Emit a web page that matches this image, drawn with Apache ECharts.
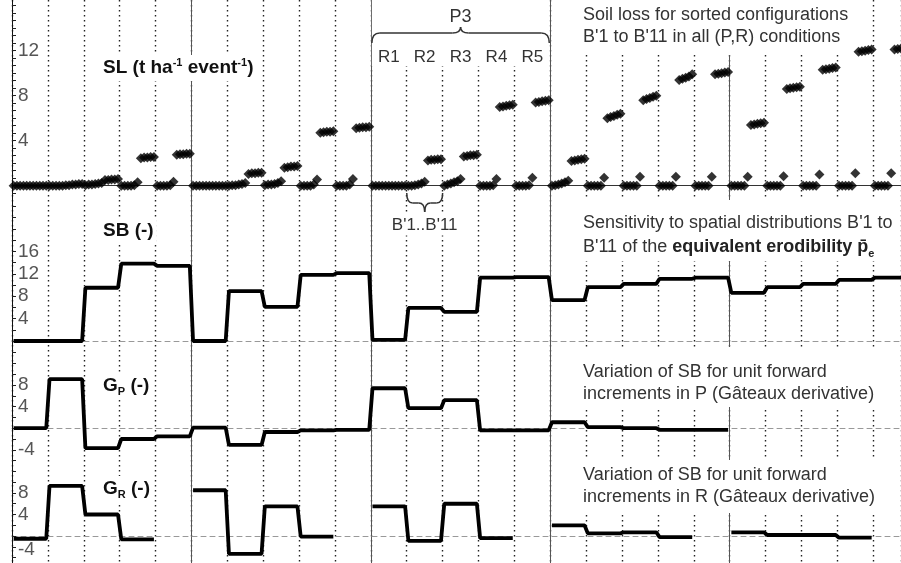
<!DOCTYPE html>
<html>
<head>
<meta charset="utf-8">
<script src="https://cdn.jsdelivr.net/npm/echarts@6/dist/echarts.min.js"></script>
<style>
html, body { margin: 0; padding: 0; background: #fff; }
#main { width: 901px; height: 563px; }
</style>
</head>
<body>
<div id="main"></div>
<script>
// 5 P levels x 5 R levels, 11 sorted configurations B'1..B'11 in each
var rLabels = ['R1', 'R2', 'R3', 'R4', 'R5'];
var nConf = 11;

// soil loss SL (t/ha/event), one row of 11 configurations per R level
var slP1 = [
  [0, 0, 0, 0, 0, 0, 0, 0, 0, 0, 0],
  [0, 0, 0, 0, 0, 0.05, 0.05, 0.1, 0.1, 0.15, 0.15],
  [0.05, 0.1, 0.1, 0.15, 0.2, 0.25, 0.5, 0.5, 0.55, 0.55, 0.6],
  [0, 0, 0, 0, 0.05, 0.3, 2.45, 2.5, 2.5, 2.55, 2.55],
  [0, 0, 0, 0, 0.05, 0.35, 2.75, 2.8, 2.8, 2.85, 2.85]
];
var slP2 = [
  [0, 0, 0, 0, 0, 0, 0, 0, 0, 0, 0],
  [0, 0.05, 0.05, 0.1, 0.15, 0.25, 1.05, 1.1, 1.1, 1.15, 1.15],
  [0.05, 0.1, 0.1, 0.15, 0.25, 0.4, 1.6, 1.65, 1.7, 1.7, 1.75],
  [0, 0, 0, 0, 0.1, 0.55, 4.7, 4.75, 4.8, 4.8, 4.85],
  [0, 0, 0, 0, 0.1, 0.6, 5.1, 5.15, 5.2, 5.2, 5.25]
];
var slP3 = [
  [0, 0, 0, 0, 0, 0, 0, 0, 0, 0, 0],
  [0, 0, 0.05, 0.1, 0.2, 0.35, 2.25, 2.3, 2.3, 2.35, 2.35],
  [0, 0.1, 0.2, 0.3, 0.4, 0.6, 2.6, 2.65, 2.7, 2.7, 2.75],
  [0, 0, 0, 0, 0.05, 0.6, 7.0, 7.05, 7.1, 7.15, 7.2],
  [0, 0, 0, 0, 0.05, 0.7, 7.4, 7.45, 7.5, 7.55, 7.6]
];
var slP4 = [
  [0, 0.05, 0.1, 0.2, 0.3, 0.45, 2.2, 2.25, 2.3, 2.35, 2.4],
  [0, 0, 0, 0, 0, 0.7, 6.0, 6.1, 6.2, 6.3, 6.4],
  [0, 0, 0, 0, 0, 0.8, 7.6, 7.7, 7.8, 7.9, 8.0],
  [0, 0, 0, 0, 0, 0.8, 9.4, 9.5, 9.6, 9.7, 9.9],
  [0, 0, 0, 0, 0, 0.8, 9.9, 9.95, 10.0, 10.05, 10.1]
];
var slP5 = [
  [0, 0, 0, 0, 0, 0.8, 5.4, 5.45, 5.5, 5.55, 5.6],
  [0, 0, 0, 0, 0, 0.85, 8.6, 8.65, 8.7, 8.75, 8.8],
  [0, 0, 0, 0, 0, 1.0, 10.3, 10.35, 10.4, 10.45, 10.5],
  [0, 0, 0, 0, 0, 1.1, 11.9, 11.95, 12.0, 12.05, 12.1],
  [0, 0, 0, 0, 0, 1.1, 12.1, 12.15, 12.2, 12.25, 12.3]
];

// one value per (P,R): P1R1..P1R5, P2R1..., P5R5
var sbValues = [0, 0, 9.5, 13.8, 13.4,
  0, 8.9, 6.1, 11.8, 12.1,
  0.2, 5.9, 5.2, 11.3, 11.4,
  7.3, 9.6, 10.2, 11.1, 11.3,
  8.6, 9.6, 10.2, 10.9, 11.3];
var gpValues = [0, 9.1, -3.7, -2.0, -1.5,
  0.1, -3.1, -0.7, -0.4, -0.3,
  7.4, 3.7, 5.2, -0.4, -0.4,
  1.1, 0.2, 0, -0.3, -0.3,
  null, null, null, null, null];
var grValues = [-0.5, 9.3, 4.0, -0.6, null,
  8.5, -3.3, 5.5, -0.1, null,
  5.5, -0.9, 6.0, -0.4, null,
  2.0, 0.5, 0.7, -0.2, null,
  0.7, 0.2, 0.2, -0.3, null];

// tick labels
var slTickLabels = [4, 8, 12];
var sbTickLabels = [4, 8, 12, 16];
var gpTickLabels = [-4, 4, 8];
var grTickLabels = [-4, 4, 8];

var FONT = 'Liberation Sans, Arial, sans-serif';
var X_MAX = 272.5;

function slPoints() {
  var all = [slP1, slP2, slP3, slP4, slP5], pts = [];
  all.forEach(function (rows, p) {
    rows.forEach(function (row, r) {
      row.forEach(function (v, j) {
        pts.push([(p * 5 + r) * nConf + j + 0.5, v]);
      });
    });
  });
  return pts;
}

// constant value over the 11 configurations of each (P,R) cell
function stepPoints(values) {
  var pts = [];
  values.forEach(function (v, s) {
    for (var j = 0; j < nConf; j++) pts.push([s * nConf + j + 0.5, v]);
  });
  return pts;
}

function tickList(from, to, step) {
  var t = [];
  for (var v = from; v <= to + 1e-6; v += step) t.push(+v.toFixed(3));
  return t;
}

function yAxisFor(gi, min, max, labels, ticks, formatter, rich) {
  return {
    gridIndex: gi, type: 'value', min: min, max: max,
    axisLine: { show: true, lineStyle: { color: '#111', width: 1 } },
    axisTick: { show: true, inside: true, length: 4, customValues: ticks, lineStyle: { color: '#222' } },
    axisLabel: {
      inside: true, customValues: labels, color: '#555', fontSize: 19,
      fontFamily: FONT, margin: 6, formatter: formatter, rich: rich
    },
    splitLine: { show: false }
  };
}

function xAxisFor(gi, zeroStyle) {
  return {
    gridIndex: gi, type: 'value', min: 0, max: X_MAX,
    axisLine: { show: true, onZero: true, lineStyle: zeroStyle },
    axisTick: { show: false }, axisLabel: { show: false }, splitLine: { show: false }
  };
}

var dashedZero = { color: '#999', width: 1, type: [5, 4] };

var chart = echarts.init(document.getElementById('main'));

var option = {
  animation: false,
  backgroundColor: '#fff',
  grid: [
    { left: 12, right: 0, top: 0, height: 197 },
    { left: 12, right: 0, top: 197, height: 166.4 },
    { left: 12, right: 0, top: 363.4, height: 108 },
    { left: 12, right: 0, top: 471.4, height: 93.5 },
    { left: 12, right: 0, top: 0, bottom: 0 }
  ],
  xAxis: [
    xAxisFor(0, { color: '#333', width: 1 }),
    xAxisFor(1, dashedZero),
    xAxisFor(2, dashedZero),
    xAxisFor(3, dashedZero),
    {
      gridIndex: 4, type: 'value', min: 0, max: X_MAX, interval: nConf, position: 'bottom',
      axisLine: { show: false }, axisTick: { show: false }, axisLabel: { show: false },
      splitLine: { show: true, lineStyle: { color: '#222', width: 1.4, type: [1.5, 3.5] } }
    },
    {
      gridIndex: 4, type: 'value', min: 0, max: X_MAX, interval: nConf * 5, position: 'top',
      axisLine: { show: false }, axisTick: { show: false }, axisLabel: { show: false },
      splitLine: { show: true, lineStyle: { color: '#555', width: 1, type: 'solid' } }
    }
  ],
  yAxis: [
    yAxisFor(0, -1, 16.5, slTickLabels, tickList(-2 / 3, 16, 2 / 3)),
    yAxisFor(1, -4, 25.7, sbTickLabels, tickList(-4, 24, 2)),
    yAxisFor(2, -8, 12, gpTickLabels, tickList(-8, 12, 2)),
    yAxisFor(3, -5, 12, grTickLabels, tickList(-4, 12, 2), function (v) {
      return v === -4 ? '{lo|-4}' : String(v);
    }, { lo: { color: '#555', fontSize: 19, fontFamily: FONT, padding: [0, 0, 16, 0] } }),
    { gridIndex: 4, type: 'value', min: 0, max: 1, show: false }
  ],
  series: [
    {
      name: 'SL', type: 'scatter', xAxisIndex: 0, yAxisIndex: 0,
      symbol: 'diamond', symbolSize: [10, 10],
      itemStyle: { color: '#000' }, data: slPoints(), z: 5
    },
    {
      name: 'SB', type: 'line', xAxisIndex: 1, yAxisIndex: 1, showSymbol: false,
      lineStyle: { color: '#000', width: 3.8 }, data: stepPoints(sbValues), z: 5
    },
    {
      name: 'Gp', type: 'line', xAxisIndex: 2, yAxisIndex: 2, showSymbol: false, connectNulls: false,
      lineStyle: { color: '#000', width: 3.8 }, data: stepPoints(gpValues), z: 5
    },
    {
      name: 'GR', type: 'line', xAxisIndex: 3, yAxisIndex: 3, showSymbol: false, connectNulls: false,
      lineStyle: { color: '#000', width: 3.8 }, data: stepPoints(grValues), z: 5
    },
    { type: 'line', xAxisIndex: 4, yAxisIndex: 4, data: [], silent: true }
  ]
};

chart.setOption(option);

// annotations placed from the axis scale
function px(xv) { return chart.convertToPixel({ xAxisIndex: 0 }, xv); }

function brace(x0, x1, yEnd, yBar, yTip) {
  var xm = (x0 + x1) / 2, r = Math.min(8, (x1 - x0) / 6);
  var st = { stroke: '#333', lineWidth: 1.5, fill: null };
  function el(type, shape) { return { type: type, shape: shape, style: st, z: 60, silent: true }; }
  return [
    el('bezierCurve', { x1: x0, y1: yEnd, x2: x0 + r, y2: yBar, cpx1: x0, cpy1: yBar }),
    el('line', { x1: x0 + r, y1: yBar, x2: xm - r, y2: yBar }),
    el('bezierCurve', { x1: xm - r, y1: yBar, x2: xm, y2: yTip, cpx1: xm, cpy1: yBar }),
    el('bezierCurve', { x1: xm, y1: yTip, x2: xm + r, y2: yBar, cpx1: xm, cpy1: yBar }),
    el('line', { x1: xm + r, y1: yBar, x2: x1 - r, y2: yBar }),
    el('bezierCurve', { x1: x1 - r, y1: yBar, x2: x1, y2: yEnd, cpx1: x1, cpy1: yBar })
  ];
}

function text(x, y, style) {
  style.fontFamily = style.fontFamily || FONT;
  return { type: 'text', x: x, y: y, style: style, z: 50, silent: true };
}

var bold = { fontSize: 19, fontWeight: 'bold', fill: '#111', fontFamily: FONT, lineHeight: 22 };
var supS = { fontSize: 11, fontWeight: 'bold', fill: '#111', fontFamily: FONT, lineHeight: 14, verticalAlign: 'top' };
var subS = { fontSize: 11, fontWeight: 'bold', fill: '#111', fontFamily: FONT, lineHeight: 14, verticalAlign: 'bottom' };
var norm = { fontSize: 18, fill: '#333', fontFamily: FONT, lineHeight: 24 };
var normB = { fontSize: 18, fontWeight: 'bold', fill: '#222', fontFamily: FONT, lineHeight: 24 };

var p3Start = 2 * 5 * nConf, p3End = 3 * 5 * nConf;
var els = [];

// white mask over the P3 header area
els.push({
  type: 'rect', shape: { x: px(p3Start) + 1, y: 0, width: px(p3End) - px(p3Start) - 2, height: 66 },
  style: { fill: '#fff' }, z: 40, silent: true
});
els.push(text(px((p3Start + p3End) / 2), 17, { text: 'P3', fontSize: 18, fill: '#333', align: 'center', verticalAlign: 'middle' }));
els = els.concat(brace(px(p3Start) + 1, px(p3End) - 1, 43, 33, 27));
rLabels.forEach(function (lab, r) {
  els.push(text(px(p3Start + r * nConf + nConf / 2), 57, { text: lab, fontSize: 17, fill: '#333', align: 'center', verticalAlign: 'middle' }));
});

// B'1..B'11 brace under P3 R2
var bStart = p3Start + nConf, bEnd = bStart + nConf;
els = els.concat(brace(px(bStart), px(bEnd), 193, 203, 212));
els.push(text(px((bStart + bEnd) / 2), 225, { text: "B'1..B'11", fontSize: 17, fill: '#333', align: 'center', verticalAlign: 'middle', backgroundColor: '#fff', padding: [2, 2] }));

// panel titles
els.push(text(100, 68, {
  text: '{b|SL (t ha}{s|-1}{b| event}{s|-1}{b|)}', rich: { b: bold, s: supS },
  verticalAlign: 'middle', backgroundColor: '#fff', padding: [2, 3]
}));
els.push(text(100, 231, { text: '{b|SB (-)}', rich: { b: bold }, verticalAlign: 'middle', backgroundColor: '#fff', padding: [2, 3] }));
els.push(text(100, 386, { text: '{b|G}{u|P}{b| (-)}', rich: { b: bold, u: subS }, verticalAlign: 'middle', backgroundColor: '#fff', padding: [2, 3] }));
els.push(text(100, 489, { text: '{b|G}{u|R}{b| (-)}', rich: { b: bold, u: subS }, verticalAlign: 'middle', backgroundColor: '#fff', padding: [2, 3] }));

// right-hand descriptions
els.push(text(580, 0, {
  text: '{n|Soil loss for sorted configurations}\n{n|B\'1 to B\'11 in all (P,R) conditions}',
  rich: { n: { fontSize: 18, fill: '#333', fontFamily: FONT, lineHeight: 22 } },
  verticalAlign: 'top', backgroundColor: '#fff', padding: [4, 3, 7, 3]
}));
els.push(text(580, 200, {
  text: '{n|Sensitivity to spatial distributions B\'1 to}\n{n|B\'11 of the }{b|equivalent erodibility }{b|p\u0304}{e|e}',
  rich: {
    n: norm, b: normB,
    e: { fontSize: 11, fontWeight: 'bold', fill: '#222', fontFamily: FONT, lineHeight: 16, verticalAlign: 'bottom' }
  },
  verticalAlign: 'top', backgroundColor: '#fff', padding: [11, 3, 2, 3]
}));
els.push(text(580, 347, {
  text: '{n|Variation of SB for unit forward}\n{n|increments in P (G\u00e2teaux derivative)}',
  rich: { n: { fontSize: 18, fill: '#333', fontFamily: FONT, lineHeight: 22 } },
  verticalAlign: 'top', backgroundColor: '#fff', padding: [14, 3, 2, 3]
}));
els.push(text(580, 460, {
  text: '{n|Variation of SB for unit forward}\n{n|increments in R (G\u00e2teaux derivative)}',
  rich: { n: { fontSize: 18, fill: '#333', fontFamily: FONT, lineHeight: 22 } },
  verticalAlign: 'top', backgroundColor: '#fff', padding: [4, 3, 5, 3]
}));

chart.setOption({ graphic: { elements: els } });
</script>
</body>
</html>
